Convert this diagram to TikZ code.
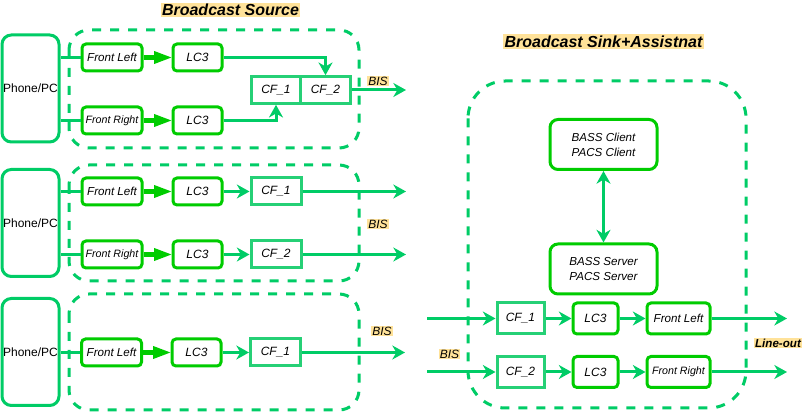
\documentclass[tikz,border=0pt]{standalone}
\usepackage{fontspec}
\setmainfont{Liberation Sans}
\usetikzlibrary{arrows.meta}
\definecolor{gl}{RGB}{0,204,102}
\definecolor{gb}{RGB}{0,204,0}
\definecolor{gc}{RGB}{38,208,118}
\definecolor{hl}{RGB}{255,226,153}
\begin{document}
\begin{tikzpicture}[x=0.75pt,y=-0.75pt,
 every node/.style={font=\itshape\fontsize{9}{10}\selectfont, inner sep=0pt, text=black},
 gbox/.style={draw=gb, line width=2.25pt, rounded corners=3pt, fill=white, minimum height=20.25pt},
 flbox/.style={gbox, minimum width=45pt, font=\itshape\fontsize{8.7}{10}\selectfont},
 frbox/.style={gbox, minimum width=45pt, font=\itshape\fontsize{8}{10}\selectfont},
 lcbox/.style={gbox, minimum width=36.75pt},
 cfbox/.style={draw=gc, line width=2.25pt, fill=white, minimum width=37.5pt, minimum height=20pt},
 phone/.style={draw=gl, line width=2.25pt, rounded corners=7pt, minimum width=42.75pt, minimum height=80.25pt, font=\fontsize{9}{10}\selectfont},
 dbox/.style={draw=gl, line width=2.25pt, dash pattern=on 6.75pt off 6.75pt},
 gline/.style={draw=gl, line width=2.25pt},
 garr/.style={gline, -{Stealth[length=9.5pt,width=10.5pt,inset=3pt]}},
 fat/.style={draw=gb, line width=3.5pt, -{Triangle[length=14pt,width=8.5pt]}, shorten >=-1pt},
 hlab/.style={fill=hl, inner sep=0.8pt},
 title/.style={fill=hl, inner sep=1pt, font=\bfseries\itshape\fontsize{12}{14}\selectfont},
 skbox/.style={gbox, minimum height=23.25pt},
 bass/.style={gbox, minimum width=80.25pt, minimum height=37.5pt, align=center, font=\itshape\fontsize{8.7}{11.25}\selectfont, rounded corners=6pt}
]
\useasboundingbox (0,0) rectangle (808,413);

% ---------- titles ----------
\node[title] (t1) at (230.5,10) {Broadcast Source};
\node[title] (t2) at (603.5,41.5) {Broadcast Sink+Assistnat};

% ---------- dashed containers ----------
\draw[dbox, rounded corners=15pt] (69,30) rectangle (359,148);
\draw[dbox, rounded corners=15pt] (69,165) rectangle (359,281);
\draw[dbox, rounded corners=15pt] (69,294) rectangle (359,410);
\draw[dbox, rounded corners=28pt] (468,81) rectangle (746,408);

% ---------- section 1 ----------
\node[phone] (p1) at (30.5,88.5) {Phone/PC};
\node[flbox] (fl1) at (112,57.5) {Front Left};
\node[lcbox] (lc1) at (197.5,57.5) {LC3};
\node[frbox] (fr1) at (112,120.5) {Front Right};
\node[lcbox] (lc12) at (197.5,120.5) {LC3};
\node[cfbox] (cf11) at (276,90) {CF\_1};
\node[cfbox] (cf12) at (325.5,90) {CF\_2};
\coordinate (o1) at (406,90);
\draw[gline] (p1.east |- fl1) -- (fl1.west);
\draw[gline] (p1.east |- fr1) -- (fr1.west);
\draw[fat] (fl1) -- (lc1);
\draw[fat] (fr1) -- (lc12);
\draw[garr] (lc1.east) -| (cf12.north);
\draw[garr] (lc12.east) -| (cf11.south);
\draw[garr] (cf12.east) -- (o1);
\node[hlab] (b1) at (378,81) {BIS};

% ---------- section 2 ----------
\node[phone] (p2) at (30.5,223) {Phone/PC};
\node[flbox] (fl2) at (112,191.5) {Front Left};
\node[lcbox] (lc2) at (197.5,191.5) {LC3};
\node[cfbox, minimum height=20.25pt] (cf21) at (276,191.5) {CF\_1};
\node[frbox] (fr2) at (112,254.5) {Front Right};
\node[lcbox] (lc22) at (197.5,254.5) {LC3};
\node[cfbox, minimum height=20.25pt] (cf22) at (276,254.5) {CF\_2};
\coordinate (o21) at (406,191.5);
\coordinate (o22) at (406,254.5);
\draw[gline] (p2.east |- fl2) -- (fl2.west);
\draw[gline] (p2.east |- fr2) -- (fr2.west);
\draw[fat] (fl2) -- (lc2);
\draw[fat] (fr2) -- (lc22);
\draw[garr] (lc2) -- (cf21);
\draw[garr] (lc22) -- (cf22);
\draw[garr] (cf21) -- (o21);
\draw[garr] (cf22) -- (o22);
\node[hlab] (b2) at (378,224) {BIS};

% ---------- section 3 ----------
\node[phone] (p3) at (30.5,352) {Phone/PC};
\node[flbox] (fl3) at (111.5,352.5) {Front Left};
\node[lcbox] (lc3) at (196.5,352.5) {LC3};
\node[cfbox, minimum height=20.25pt] (cf31) at (275.5,352.5) {CF\_1};
\coordinate (o3) at (405,352.5);
\draw[gline] (p3.east |- fl3) -- (fl3.west);
\draw[fat] (fl3) -- (lc3);
\draw[garr] (lc3) -- (cf31);
\draw[garr] (cf31) -- (o3);
\node[hlab] (b3) at (382,331) {BIS};

% ---------- sink ----------
\node[bass] (bc) at (603.5,144.5) {BASS Client\\PACS Client};
\node[bass] (bs) at (603.5,269) {BASS Server\\PACS Server};
\draw[gline, {Stealth[length=9.5pt,width=10.5pt,inset=3pt]}-{Stealth[length=9.5pt,width=10.5pt,inset=3pt]}] (bc) -- (bs);

\node[cfbox, minimum width=35.25pt, minimum height=23.25pt] (cfs1) at (520.5,318.5) {CF\_1};
\node[skbox, minimum width=33.75pt] (lcs1) at (595.5,318.5) {LC3};
\node[skbox, minimum width=47.25pt, font=\itshape\fontsize{8.7}{10}\selectfont] (fls1) at (678.5,318.5) {Front Left};
\node[cfbox, minimum width=35.25pt, minimum height=23.25pt] (cfs2) at (520.5,372) {CF\_2};
\node[skbox, minimum width=33.75pt] (lcs2) at (595.5,372) {LC3};
\node[skbox, minimum width=47.25pt, font=\itshape\fontsize{8}{10}\selectfont] (frs2) at (678.5,372) {Front Right};
\coordinate (i1) at (427,318.5);
\coordinate (i2) at (427,372);
\coordinate (e1) at (787,318.5);
\coordinate (e2) at (787,372);
\draw[garr] (i1) -- (cfs1);
\draw[garr] (cfs1) -- (lcs1);
\draw[garr] (lcs1) -- (fls1);
\draw[garr] (fls1) -- (e1);
\draw[garr] (i2) -- (cfs2);
\draw[garr] (cfs2) -- (lcs2);
\draw[garr] (lcs2) -- (frs2);
\draw[garr] (frs2) -- (e2);
\node[hlab] (b4) at (449.5,354) {BIS};
\node[hlab, font=\bfseries\itshape\fontsize{8.7}{10}\selectfont] (lo) at (778,343) {Line-out};
\end{tikzpicture}
\end{document}
